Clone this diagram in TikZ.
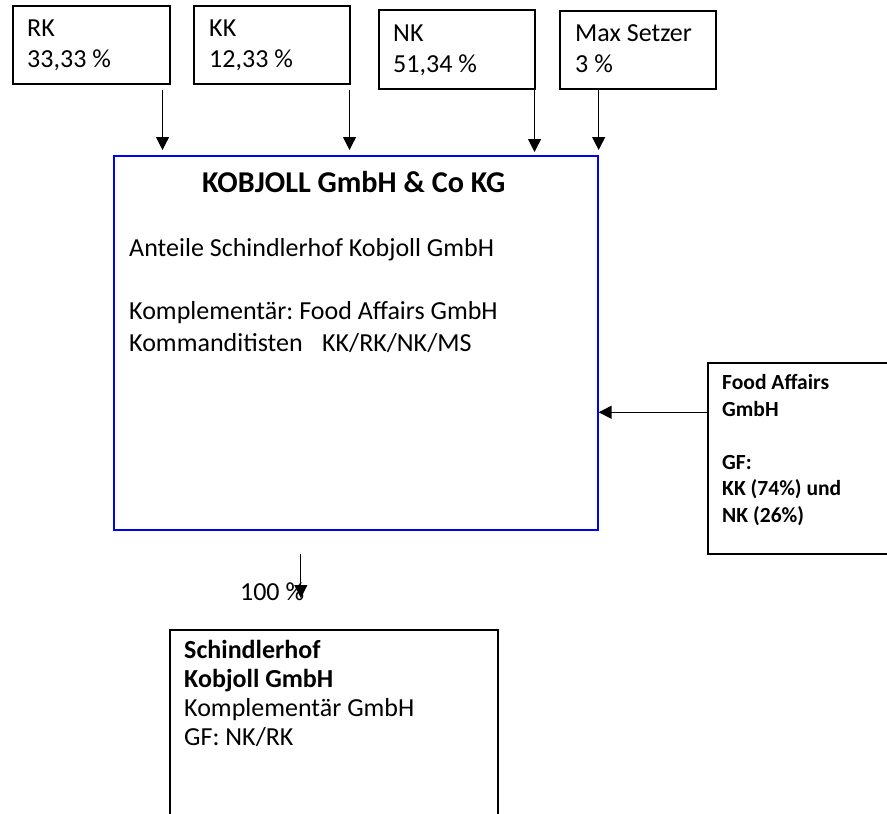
\documentclass[tikz,border=0pt]{standalone}
\usepackage{fontspec}
\setmainfont{Carlito}
\usetikzlibrary{positioning, arrows.meta, calc}
\definecolor{kgBlue}{rgb}{0,0,1}
\frenchspacing

\begin{document}
\begin{tikzpicture}[
  x=0.03cm, y=-0.03cm,
  box/.style={draw, line width=1.3pt, inner sep=0pt, anchor=north west},
  kgbox/.style={draw=kgBlue, line width=1.4pt, inner sep=0pt, anchor=north west},
  item/.style={font=\fontsize{22.2}{26.5}\selectfont, anchor=base west, align=left, inner sep=0pt},
  small/.style={font=\fontsize{18.4}{22.6}\selectfont\bfseries, anchor=base west, align=left, inner sep=0pt},
  arr/.style={line width=1pt, -{Triangle[length=11pt, width=11pt]}},
]
  \useasboundingbox (0,0) rectangle (887,814);

  \node[box, minimum width=4.71cm, minimum height=2.34cm] (rk) at (12,5) {};
  \node[box, minimum width=4.68cm, minimum height=2.34cm] (kk) at (193,5) {};
  \node[box, minimum width=4.68cm, minimum height=2.37cm] (nk) at (378,9) {};
  \node[box, minimum width=4.68cm, minimum height=2.34cm] (ms) at (559,10) {};
  \node[kgbox, minimum width=14.52cm, minimum height=11.22cm] (kg) at (113,155) {};
  \node[box, minimum width=5.79cm, minimum height=5.73cm] (fa) at (707,362) {};
  \node[box, minimum width=9.84cm, minimum height=6.03cm] (sk) at (169,629) {};

  \node[item] (rkt) at ($(rk.north west)+(15,63)$) {RK\\33,33 \%};
  \node[item] (kkt) at ($(kk.north west)+(16,63)$) {KK\\12,33 \%};
  \node[item] (nkt) at ($(nk.north west)+(15,64)$) {NK\\51,34 \%};
  \node[item] (mst) at ($(ms.north west)+(16,63)$) {Max Setzer\\3 \%};

  \node[font=\fontsize{25.8}{31}\selectfont\bfseries, anchor=base, inner sep=0pt] (kgt) at ($(kg.north)+(-2,37)$) {KOBJOLL GmbH \& Co KG};
  \node[item] (kga) at ($(kg.north west)+(16,101)$) {Anteile Schindlerhof Kobjoll GmbH};
  \node[item] (kgb) at ($(kg.north west)+(16,196)$) {Komplementär: Food Affairs GmbH\\Kommanditisten\hspace{0.75em}KK/RK/NK/MS};

  \node[small] (fat) at ($(fa.north west)+(15,160)$) {Food Affairs\\GmbH\\ \\GF:\\KK (74\%) und\\NK (26\%)};

  \node[item, font=\fontsize{22.2}{24.5}\selectfont] (skt) at ($(sk.north west)+(15,116)$) {\textbf{Schindlerhof}\\\textbf{Kobjoll GmbH}\\Komplementär GmbH\\GF: NK/RK};

  \draw[arr] ($(rk.south east)+(-8,5)$) coordinate (a1) -- ($(a1 |- kg.north)+(0,-5)$);
  \draw[arr] ($(kk.south east)+(-1,5)$) coordinate (a2) -- ($(a2 |- kg.north)+(0,-5)$);
  \draw[arr] ($(nk.south east)+(-1,0)$) coordinate (a3) -- ($(a3 |- kg.north)+(0,-3)$);
  \draw[arr] (ms.south -| kg.north east) -- ($(kg.north east)+(0,-5)$);
  \draw[arr] ($(fa.west)+(0,-46)$) coordinate (a5) -- (a5 -| kg.east);
  \draw[arr] ($(kg.south)+(-55,23)$) coordinate (a6) -- ($(a6 |- sk.north)+(0,-31)$);
  \node[item] (pct) at ($(a6 |- sk.north)+(-61,-29)$) {100 \%};
\end{tikzpicture}
\end{document}
